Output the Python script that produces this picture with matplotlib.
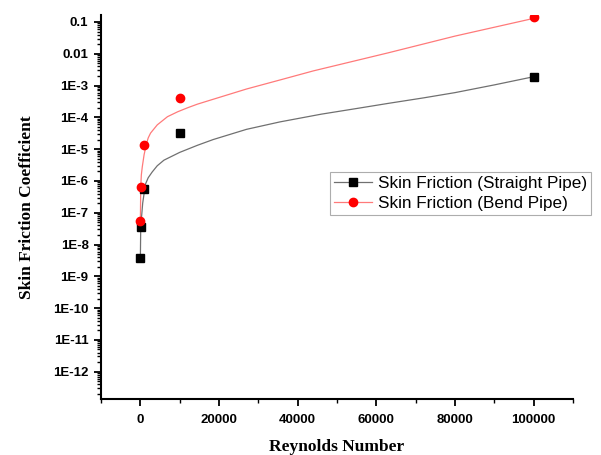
import matplotlib as mpl
mpl.use('Agg')
import matplotlib.pyplot as plt
from matplotlib.lines import Line2D
from matplotlib.ticker import FixedLocator, MultipleLocator, LogLocator, NullFormatter
import numpy as np

# measured points
reynolds = [10, 100, 1000, 10000, 100000]
cf_straight = [3.7e-9, 3.5e-8, 5.7e-7, 3.2e-5, 1.9e-3]
cf_bend = [5.3e-8, 6.3e-7, 1.4e-5, 4.2e-4, 0.147]

# fitted curves
fit_re_straight = [10, 100, 600, 1300, 2000, 3000, 4300, 6000, 10000, 14500,
                   18500, 27000, 35500, 46000, 55000, 63000, 72000, 80000,
                   90000, 100000]
fit_straight = [3.7e-9, 3.6e-8, 2.0e-7, 7.9e-7, 1.26e-6, 1.9e-6, 3.0e-6,
                4.5e-6, 7.9e-6, 1.32e-5, 2.0e-5, 4.2e-5, 7.2e-5, 1.26e-4,
                1.9e-4, 2.75e-4, 4.1e-4, 6.0e-4, 1.05e-3, 1.9e-3]
fit_re_bend = [10, 100, 255, 500, 950, 1500, 2000, 2600, 4300, 6900, 9500,
               12000, 14500, 18500, 27000, 35500, 44000, 63000, 80000, 100000]
fit_bend = [5.2e-8, 6.3e-7, 1.55e-6, 2.8e-6, 6.6e-6, 1.4e-5, 2.25e-5,
            3.2e-5, 5.8e-5, 1.05e-4, 1.5e-4, 2.0e-4, 2.6e-4, 3.7e-4,
            7.8e-4, 1.5e-3, 2.9e-3, 1.07e-2, 3.6e-2, 0.13]

y_ticks = [1e-12, 1e-11, 1e-10, 1e-9, 1e-8, 1e-7, 1e-6, 1e-5, 1e-4,
           1e-3, 1e-2, 1e-1]
y_labels = ['1E-12', '1E-11', '1E-10', '1E-9', '1E-8', '1E-7', '1E-6',
            '1E-5', '1E-4', '1E-3', '0.01', '0.1']
x_ticks = [0, 20000, 40000, 60000, 80000, 100000]

fig = plt.figure(figsize=(6.01, 4.55), dpi=100)
ax = fig.add_axes([101 / 601, 1 - 399 / 455, 472 / 601, 384 / 455])

ax.plot(fit_re_straight, fit_straight, color='#707070', lw=0.9, zorder=2)
ax.plot(fit_re_bend, fit_bend, color='#ff7a7a', lw=0.9, zorder=2)
ax.plot(reynolds, cf_straight, 's', color='black', ms=5.3, zorder=3)
ax.plot(reynolds, cf_bend, 'o', color='red', ms=6, zorder=3)

ax.set_yscale('log')
ax.set_xlim(-10000, 110000)
ax.set_ylim(1.38e-13, 0.166)

ax.spines['top'].set_visible(False)
ax.spines['right'].set_visible(False)
ax.spines['left'].set_linewidth(1.5)
ax.spines['bottom'].set_linewidth(1.5)

ax.yaxis.set_major_locator(FixedLocator(y_ticks))
ax.set_yticklabels(y_labels)
ax.yaxis.set_minor_locator(LogLocator(base=10, subs=np.arange(2, 10), numticks=30))
ax.yaxis.set_minor_formatter(NullFormatter())
ax.xaxis.set_major_locator(FixedLocator(x_ticks))
ax.set_xticklabels([str(v) for v in x_ticks])
ax.xaxis.set_minor_locator(MultipleLocator(10000))

ax.tick_params(which='major', direction='out', length=5, width=1.3)
ax.tick_params(which='minor', direction='out', length=3, width=1)
ax.tick_params(axis='x', which='major', pad=6)
ax.tick_params(axis='y', which='major', pad=4)
for lab in ax.get_xticklabels() + ax.get_yticklabels():
    lab.set_fontfamily('Liberation Sans')
    lab.set_fontweight('bold')
    lab.set_fontsize(9.5)

ax.set_xlabel('Reynolds Number', family='Liberation Serif', weight='bold',
              fontsize=12.5, labelpad=9)
ax.set_ylabel('Skin Friction Coefficient', family='Liberation Serif',
              weight='bold', fontsize=12.5, labelpad=13)

handles = [Line2D([], [], color='#707070', lw=0.9, marker='s', ms=5.3,
                  mfc='black', mec='black'),
           Line2D([], [], color='#ff7a7a', lw=0.9, marker='o', ms=6,
                  mfc='red', mec='red')]
leg = fig.legend(handles, ['Skin Friction (Straight Pipe)', 'Skin Friction (Bend Pipe)'],
                 loc='upper left', bbox_to_anchor=(330 / 601, 1 - 172 / 455),
                 prop={'family': 'Liberation Sans', 'size': 12.3},
                 frameon=True, fancybox=False, borderpad=0.25,
                 labelspacing=0.25, handlelength=2.2, handletextpad=0.35,
                 borderaxespad=0)
leg.get_frame().set_edgecolor('#999999')
leg.get_frame().set_linewidth(0.8)

plt.savefig('out.png', dpi=100)
